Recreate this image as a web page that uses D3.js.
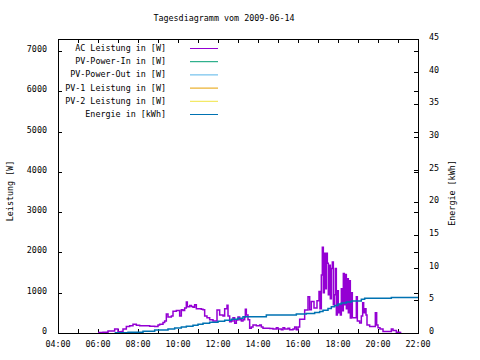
<!DOCTYPE html>
<meta charset='utf-8'>
<style>
  body { margin: 0; background: #fff; }
  svg { display: block; }
  text { font-family: 'DejaVu Sans Mono', monospace; font-size: 8.4px; fill: #000; }
  .border { fill: none; stroke: #000; stroke-width: 1; shape-rendering: crispEdges; }
  .tick { stroke: #000; stroke-width: 1; shape-rendering: crispEdges; }
  .series { fill: none; stroke-width: 1.5; }
</style>

<svg width='480' height='360'></svg>
<script src="https://d3js.org/d3.v7.min.js"></script>
<script>
  // AC Leistung in [W]  (time, watts)
  var acLeistung = [
    ['06:00', 10], ['06:15', 20], ['06:30', 50], ['06:45', 50], ['06:50', 100], ['07:00', 30],
    ['07:10', 40], ['07:15', 100], ['07:25', 160], ['07:35', 180], ['07:45', 220], ['07:55', 190],
    ['08:05', 180], ['08:20', 180], ['08:35', 170], ['08:50', 160], ['09:00', 200], ['09:05', 220],
    ['09:15', 260], ['09:20', 300], ['09:25', 470], ['09:30', 400], ['09:40', 420], ['09:45', 540],
    ['09:55', 560], ['10:05', 420], ['10:10', 580], ['10:15', 560], ['10:20', 620], ['10:25', 770],
    ['10:28', 650], ['10:35', 680], ['10:40', 660], ['10:45', 640], ['10:50', 700], ['10:55', 600],
    ['11:10', 590], ['11:15', 580], ['11:20', 420], ['11:27', 380], ['11:35', 330], ['11:45', 300],
    ['11:57', 570], ['12:05', 450], ['12:15', 420], ['12:20', 600], ['12:27', 690], ['12:30', 420],
    ['12:35', 280], ['12:40', 300], ['12:45', 380], ['12:50', 240], ['12:55', 320], ['13:00', 400],
    ['13:05', 330], ['13:10', 300], ['13:15', 330], ['13:20', 400], ['13:22', 590], ['13:25', 450],
    ['13:30', 330], ['13:35', 115], ['13:40', 150], ['13:45', 200], ['13:55', 180], ['14:05', 200],
    ['14:10', 150], ['14:15', 120], ['14:35', 110], ['14:45', 100], ['14:55', 130], ['15:00', 100],
    ['15:10', 80], ['15:15', 130], ['15:20', 100], ['15:30', 120], ['15:35', 80], ['15:45', 100],
    ['15:50', 150], ['15:55', 80], ['16:00', 150], ['16:05', 340], ['16:20', 570], ['16:30', 900],
    ['16:35', 580], ['16:40', 780], ['16:48', 620], ['16:57', 800], ['17:03', 1030], ['17:06', 600],
    ['17:10', 1440], ['17:13', 2130], ['17:16', 1000], ['17:19', 1980], ['17:22', 1100], ['17:25', 1980],
    ['17:28', 1730], ['17:31', 950], ['17:34', 1680], ['17:37', 850], ['17:40', 1600], ['17:43', 1760],
    ['17:46', 700], ['17:49', 950], ['17:52', 1600], ['17:55', 450], ['17:58', 1050], ['18:01', 500],
    ['18:04', 700], ['18:07', 450], ['18:10', 1100], ['18:13', 550], ['18:16', 1480], ['18:19', 700],
    ['18:22', 1450], ['18:25', 600], ['18:28', 1350], ['18:31', 500], ['18:34', 1300], ['18:37', 370],
    ['18:40', 1000], ['18:43', 380], ['18:55', 900], ['18:58', 300], ['19:05', 250], ['19:10', 420],
    ['19:14', 750], ['19:17', 500], ['19:20', 600], ['19:24', 450], ['19:27', 200], ['19:35', 160],
    ['19:52', 500], ['19:56', 200], ['20:00', 130], ['20:06', 100], ['20:15', 40], ['20:40', 100],
    ['20:45', 60], ['20:55', 20], ['21:05', 10], ['21:10', 10]
  ];

  // series without values on this day (only in the key)
  var pvPowerIn = [];
  var pvPowerOut = [];
  var pv1Leistung = [];
  var pv2Leistung = [];

  // Energie in [kWh]  (time, kWh), right axis
  var energie = [
    ['06:50', 0.05], ['07:30', 0.1], ['08:15', 0.25], ['08:50', 0.45], ['09:30', 0.6], ['09:50', 0.75],
    ['10:10', 0.9], ['10:25', 1.05], ['10:45', 1.2], ['11:00', 1.35], ['11:15', 1.5], ['11:35', 1.65],
    ['12:00', 1.8], ['12:20', 1.95], ['12:40', 2.1], ['13:00', 2.25], ['13:15', 2.5], ['14:25', 2.75],
    ['15:55', 2.9], ['16:25', 3.0], ['16:50', 3.15], ['17:05', 3.3], ['17:15', 3.5], ['17:30', 3.75],
    ['17:40', 4.0], ['17:50', 4.2], ['18:00', 4.45], ['18:10', 4.6], ['18:25', 4.75], ['18:40', 4.9],
    ['19:10', 5.15], ['19:20', 5.3], ['20:40', 5.45], ['22:00', 5.45]
  ];

  var legendLabels = ['AC Leistung in [W]', 'PV-Power-In in [W]', 'PV-Power-Out in [W]',
                      'PV-1 Leistung in [W]', 'PV-2 Leistung in [W]', 'Energie in [kWh]'];
  var legendColors = ['#9400d3', '#009e73', '#56b4e9', '#e69f00', '#f0e442', '#0072b2'];

  var xTickLabels = ['04:00', '06:00', '08:00', '10:00', '12:00', '14:00', '16:00', '18:00', '20:00', '22:00'];
  var yTicks = [0, 1000, 2000, 3000, 4000, 5000, 6000, 7000];
  var y2Ticks = [0, 5, 10, 15, 20, 25, 30, 35, 40, 45];

  var svg = d3.select('svg'),
    plotL = 58, plotR = 418, plotT = 39, plotB = 333;

  var parse = d3.timeParse('%H:%M');

  var x = d3.scaleTime()
    .domain([parse('04:00'), parse('22:00')])
    .range([plotL, plotR]);
  var y = d3.scaleLinear().domain([0, 7300]).range([plotB, plotT]);
  var y2 = d3.scaleLinear().domain([0, 45]).range([plotB, plotT]);

  var hourTicks = d3.timeHour.range(parse('04:00'), d3.timeMinute.offset(parse('22:00'), 1));

  // tick marks, inward on all sides
  var ticks = svg.append('g');
  hourTicks.forEach(function(t) {
    var px = Math.round(x(t)) + 0.5;
    ticks.append('line').attr('class', 'tick').attr('x1', px).attr('x2', px).attr('y1', plotB).attr('y2', plotB - 4);
    ticks.append('line').attr('class', 'tick').attr('x1', px).attr('x2', px).attr('y1', plotT).attr('y2', plotT + 4);
  });
  yTicks.forEach(function(v) {
    var py = Math.round(y(v)) + 0.5;
    ticks.append('line').attr('class', 'tick').attr('x1', plotL).attr('x2', plotL + 4).attr('y1', py).attr('y2', py);
    ticks.append('line').attr('class', 'tick').attr('x1', plotR).attr('x2', plotR - 4).attr('y1', py).attr('y2', py);
  });
  y2Ticks.forEach(function(v) {
    var py = Math.round(y2(v)) + 0.5;
    ticks.append('line').attr('class', 'tick').attr('x1', plotR).attr('x2', plotR - 4).attr('y1', py).attr('y2', py);
  });

  // tick labels
  svg.append('g').selectAll('text').data(xTickLabels).enter().append('text')
    .attr('x', function(d) { return x(parse(d)); })
    .attr('y', plotB + 14)
    .attr('text-anchor', 'middle')
    .text(function(d) { return d; });

  svg.append('g').selectAll('text').data(yTicks).enter().append('text')
    .attr('x', plotL - 11)
    .attr('y', function(d) { return y(d) + 1; })
    .attr('text-anchor', 'end')
    .text(function(d) { return d; });

  svg.append('g').selectAll('text').data(y2Ticks).enter().append('text')
    .attr('x', 429)
    .attr('y', function(d) { return y2(d) + 1; })
    .text(function(d) { return d; });

  // titles
  svg.append('text').attr('x', 224).attr('y', 21).attr('text-anchor', 'middle')
    .text('Tagesdiagramm vom 2009-06-14');
  svg.append('text').attr('transform', 'translate(13,191) rotate(-90)').attr('text-anchor', 'middle')
    .text('Leistung [W]');
  svg.append('text').attr('transform', 'translate(455,193) rotate(-90)').attr('text-anchor', 'middle')
    .text('Energie [kWh]');

  // data lines
  var lineW = d3.line()
    .x(function(d) { return x(parse(d[0])); })
    .y(function(d) { return y(d[1]); })
    .curve(d3.curveStepAfter);
  var lineE = d3.line()
    .x(function(d) { return x(parse(d[0])); })
    .y(function(d) { return y2(d[1]); })
    .curve(d3.curveStepAfter);

  [pvPowerIn, pvPowerOut, pv1Leistung, pv2Leistung].forEach(function(s, i) {
    if (s.length) svg.append('path').datum(s).attr('class', 'series').attr('stroke', legendColors[i + 1]).attr('d', lineW);
  });
  svg.append('path').datum(acLeistung).attr('class', 'series').attr('stroke', legendColors[0]).attr('d', lineW);
  svg.append('path').datum(energie).attr('class', 'series').attr('stroke', legendColors[5]).attr('d', lineE);

  // key
  var key = svg.append('g').selectAll('g').data(legendLabels).enter().append('g')
    .attr('transform', function(d, i) { return 'translate(0,' + (48 + i * 13.2) + ')'; });
  key.append('text').attr('x', 166).attr('y', 3).attr('text-anchor', 'end').text(function(d) { return d; });
  key.append('line').attr('x1', 190).attr('x2', 218).attr('y1', 0.5).attr('y2', 0.5)
    .attr('stroke', function(d, i) { return legendColors[i]; }).attr('stroke-width', 1);

  svg.append('rect').attr('class', 'border')
    .attr('x', plotL + 0.5).attr('y', plotT + 0.5).attr('width', plotR - plotL).attr('height', plotB - plotT);
</script>
